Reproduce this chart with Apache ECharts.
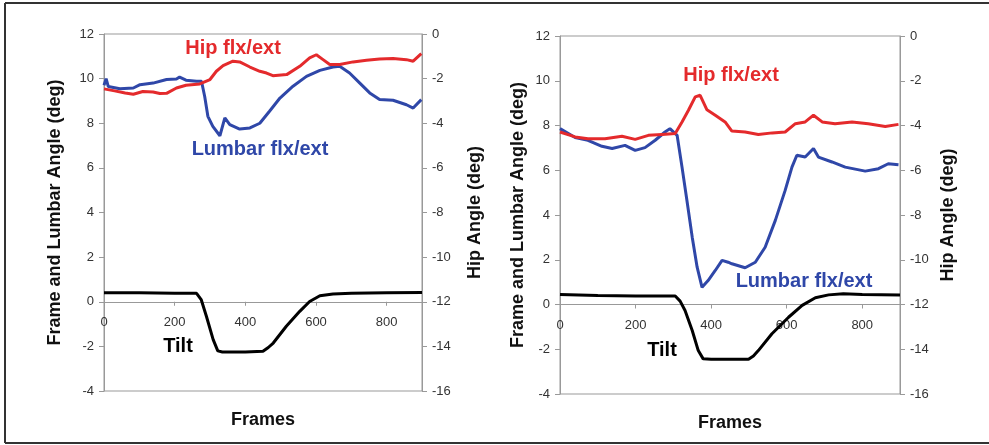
<!DOCTYPE html>
<html>
<head>
<meta charset="utf-8">
<script src="https://cdn.jsdelivr.net/npm/echarts@6/dist/echarts.min.js"></script>
<style>
  html, body { margin: 0; padding: 0; background: #fff; }
  #chart { width: 989px; height: 445px; }
</style>
</head>
<body>
<div id="chart"></div>
<script>
// x ticks shared by both panels
const frameTicks = [0, 200, 400, 600, 800]

// left panel: [frame, deg]; hip in hip-axis units
const leftHip = [[0,-2.46],[30,-2.55],[60,-2.64],[83,-2.7],[110,-2.58],[139,-2.6],[158,-2.67],[177,-2.66],[205,-2.42],[232,-2.3],[271,-2.24],[300,-2.04],[318,-1.67],[337,-1.42],[365,-1.22],[384,-1.25],[413,-1.48],[441,-1.67],[460,-1.75],[478,-1.87],[517,-1.82],[554,-1.45],[582,-1.07],[601,-0.93],[620,-1.15],[639,-1.37],[667,-1.37],[705,-1.25],[743,-1.18],[780,-1.12],[818,-1.1],[856,-1.15],[875,-1.22],[898,-0.88]]
const leftLumbar = [[0,9.7],[6,10.0],[12,9.65],[45,9.55],[83,9.58],[102,9.73],[139,9.8],[177,9.96],[205,9.98],[214,10.07],[232,9.93],[262,9.88],[276,9.88],[285,9.2],[294,8.31],[308,7.86],[328,7.44],[342,8.24],[356,7.94],[384,7.74],[413,7.79],[441,8.0],[469,8.55],[498,9.13],[535,9.66],[573,10.1],[611,10.37],[648,10.52],[667,10.55],[695,10.25],[724,9.8],[752,9.36],[780,9.06],[818,9.03],[856,8.83],[875,8.68],[898,9.06]]
const leftTilt = [[0,0.4],[100,0.4],[200,0.38],[262,0.38],[275,0.1],[290,-0.66],[309,-1.7],[322,-2.2],[335,-2.25],[400,-2.25],[450,-2.22],[465,-2.05],[479,-1.85],[516,-1.1],[554,-0.43],[582,0.01],[611,0.27],[648,0.35],[700,0.38],[800,0.4],[900,0.42]]

// right panel
const rightHip = [[0,-4.29],[40,-4.51],[74,-4.59],[119,-4.59],[164,-4.48],[199,-4.62],[234,-4.44],[270,-4.4],[305,-4.36],[323,-3.84],[340,-3.32],[358,-2.72],[371,-2.65],[389,-3.3],[411,-3.54],[437,-3.84],[455,-4.25],[490,-4.29],[525,-4.4],[562,-4.33],[596,-4.29],[623,-3.92],[649,-3.84],[671,-3.54],[694,-3.84],[728,-3.92],[773,-3.84],[816,-3.92],[861,-4.04],[896,-3.95]]
const rightLumbar = [[0,7.86],[40,7.46],[74,7.34],[111,7.07],[138,6.97],[172,7.11],[199,6.89],[225,7.01],[252,7.34],[278,7.71],[291,7.86],[310,7.56],[323,6.14],[336,4.65],[350,3.01],[363,1.67],[376,0.77],[392,1.07],[411,1.52],[429,1.97],[445,1.89],[455,1.82],[490,1.64],[517,1.89],[543,2.56],[570,3.76],[596,5.1],[614,6.14],[627,6.67],[649,6.59],[671,6.97],[684,6.59],[720,6.37],[755,6.14],[808,5.96],[843,6.07],[869,6.29],[896,6.25]]
const rightTilt = [[0,0.45],[100,0.4],[200,0.38],[305,0.38],[318,0.15],[331,-0.27],[350,-1.16],[366,-2.06],[379,-2.43],[400,-2.45],[499,-2.45],[512,-2.3],[525,-2.06],[561,-1.31],[605,-0.57],[641,-0.04],[676,0.3],[711,0.43],[750,0.48],[800,0.45],[900,0.42]]

const RED = '#e42a2c'
const BLUE = '#2f47a8'
const FONT = 'Arial, "Liberation Sans", sans-serif'

var chart = echarts.init(document.getElementById('chart'))

// x axis sits on the zero line: shift it up from the grid bottom
function xAxisFor(grid, shift) {
  return {
    type: 'value', gridIndex: grid, position: 'bottom', offset: -shift,
    min: 0, max: 900, interval: 200,
    axisLine: { onZero: false, lineStyle: { color: '#999', width: 1 } },
    axisTick: { show: true, length: 4, lineStyle: { color: '#999' } },
    axisLabel: { color: '#333', fontSize: 13, fontFamily: FONT, margin: 14, showMaxLabel: false,
      formatter: v => frameTicks.indexOf(v) >= 0 ? String(v) : '' },
    splitLine: { show: false }
  }
}

function yAxisFor(grid, pos, min, max, name, gap) {
  return {
    type: 'value', gridIndex: grid, position: pos, min: min, max: max, interval: 2,
    name: name, nameLocation: 'middle', nameGap: gap,
    nameTextStyle: { color: '#111', fontSize: 18, fontWeight: 'bold', fontFamily: FONT },
    axisLine: { show: true, onZero: false, lineStyle: { color: '#999', width: 1 } },
    axisTick: { show: true, length: 5, lineStyle: { color: '#999' } },
    axisLabel: { color: '#333', fontSize: 13, fontFamily: FONT, margin: 10 },
    splitLine: { show: false }
  }
}

function line(data, color, xi, yi) {
  return { type: 'line', data: data, xAxisIndex: xi, yAxisIndex: yi, showSymbol: false,
    lineStyle: { color: color, width: 3 }, itemStyle: { color: color }, z: 3 }
}

function txt(x, y, s, color, size) {
  return { type: 'text', x: x, y: y, z: 10,
    style: { text: s, fill: color, font: 'bold ' + size + 'px ' + FONT, align: 'center', verticalAlign: 'middle' } }
}

chart.setOption({
  animation: false,
  backgroundColor: '#fff',
  grid: [
    { left: 104, top: 34, width: 318, height: 357, show: true, borderColor: '#999', borderWidth: 1 },
    { left: 560, top: 36, width: 340, height: 358, show: true, borderColor: '#999', borderWidth: 1 }
  ],
  xAxis: [xAxisFor(0, 357 * 4 / 16), xAxisFor(1, 358 * 4 / 16)],
  yAxis: [
    yAxisFor(0, 'left', -4, 12, 'Frame and Lumbar Angle (deg)', 40),
    yAxisFor(0, 'right', -16, 0, 'Hip Angle (deg)', 44),
    yAxisFor(1, 'left', -4, 12, 'Frame and Lumbar Angle (deg)', 33),
    yAxisFor(1, 'right', -16, 0, 'Hip Angle (deg)', 39)
  ],
  series: [
    line(leftTilt, '#000', 0, 0),
    line(leftLumbar, BLUE, 0, 0),
    line(leftHip, RED, 0, 1),
    line(rightTilt, '#000', 1, 2),
    line(rightLumbar, BLUE, 1, 2),
    line(rightHip, RED, 1, 3)
  ],
  graphic: [
    { type: 'line', shape: { x1: 5, y1: 3, x2: 989, y2: 3 }, style: { stroke: '#333', lineWidth: 2 } },
    { type: 'line', shape: { x1: 5, y1: 3, x2: 5, y2: 443 }, style: { stroke: '#333', lineWidth: 2 } },
    { type: 'line', shape: { x1: 5, y1: 443, x2: 989, y2: 443 }, style: { stroke: '#333', lineWidth: 2 } },
    txt(233, 48, 'Hip flx/ext', RED, 20),
    txt(260, 149, 'Lumbar flx/ext', BLUE, 20),
    txt(178, 346, 'Tilt', '#000', 20),
    txt(263, 420, 'Frames', '#111', 18),
    txt(731, 75, 'Hip flx/ext', RED, 20),
    txt(804, 281, 'Lumbar flx/ext', BLUE, 20),
    txt(662, 350, 'Tilt', '#000', 20),
    txt(730, 423, 'Frames', '#111', 18)
  ]
})
</script>
</body>
</html>
